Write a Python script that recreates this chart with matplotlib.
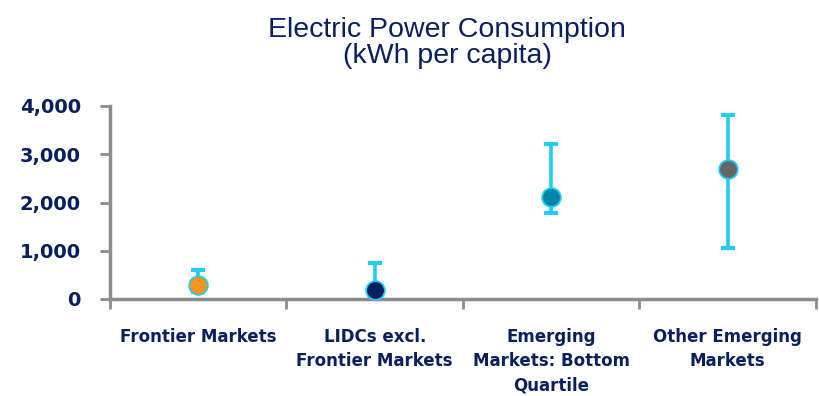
import matplotlib
matplotlib.use("Agg")
import matplotlib.pyplot as plt

categories = ["Frontier Markets", "LIDCs excl.\nFrontier Markets",
              "Emerging\nMarkets: Bottom\nQuartile", "Other Emerging\nMarkets"]
median = [300, 180, 2110, 2690]
low = [150, 60, 1780, 1060]
high = [600, 745, 3210, 3815]
marker_colors = ["#F7941D", "#002060", "#0085A8", "#666666"]
yticks = [0, 1000, 2000, 3000, 4000]

navy = "#0A1F5E"
err_color = "#22CCF5"
axis_color = "#8C8C8C"

fig = plt.figure(figsize=(8.2, 3.96), dpi=100)
ax = fig.add_axes([110 / 820, 1 - 299 / 396, 706 / 820, (299 - 106) / 396])

x = list(range(len(categories)))
for i in x:
    ax.errorbar(i, median[i], yerr=[[median[i] - low[i]], [high[i] - median[i]]],
                fmt="none", ecolor=err_color, elinewidth=2.6, capsize=5, capthick=3,
                zorder=2)
    ax.scatter(i, median[i], s=180, color=marker_colors[i], edgecolor=err_color,
               linewidth=1.3, zorder=3)

ax.set_xlim(-0.5, len(categories) - 0.5)
ax.set_ylim(0, 4000)
ax.set_yticks(yticks)
ax.set_yticklabels([f"{v:,}" for v in yticks], fontsize=14, fontweight="bold",
                   color=navy, family="DejaVu Sans")
ax.set_xticks([i + 0.5 for i in range(-1, len(categories))])
ax.set_xticklabels([])
ax.tick_params(axis="x", direction="out", length=7, width=2, color=axis_color)
ax.tick_params(axis="y", direction="out", length=7, width=2, color=axis_color, pad=14)

for i, label in enumerate(categories):
    ax.text(i, -0.15, label, transform=ax.get_xaxis_transform(), ha="center", va="top",
            fontsize=12, fontweight="bold", color=navy, family="DejaVu Sans",
            linespacing=1.45)

for side in ["top", "right"]:
    ax.spines[side].set_visible(False)
for side in ["left", "bottom"]:
    ax.spines[side].set_color(axis_color)
    ax.spines[side].set_linewidth(2.5)

fig.text(447 / 820, 1 - 43 / 396, "Electric Power Consumption\n(kWh per capita)",
         ha="center", va="center", fontsize=20.5, color=navy, family="Liberation Sans",
         linespacing=0.98)

fig.savefig("out.png", dpi=100)
